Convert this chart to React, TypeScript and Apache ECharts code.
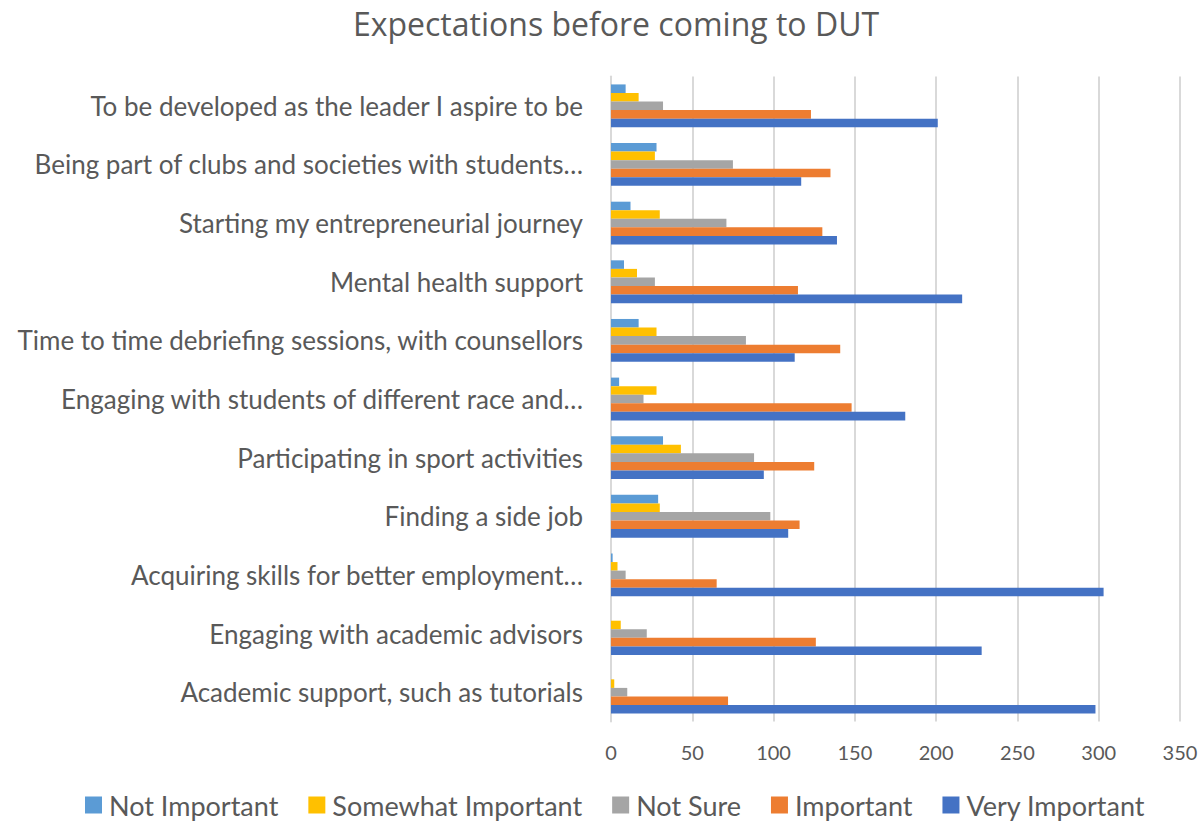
import React, { useEffect, useRef } from "react";
import * as echarts from "echarts";

// Categories listed bottom to top (Excel order)
const categories = [
  "Academic support, such as tutorials",
  "Engaging with academic advisors",
  "Acquiring skills for better employment…",
  "Finding a side job",
  "Participating in sport activities",
  "Engaging with students of different race and…",
  "Time to time debriefing sessions, with counsellors",
  "Mental health support",
  "Starting my entrepreneurial journey",
  "Being part of clubs and societies with students…",
  "To be developed as the leader I aspire to be",
];

const seriesNames = ["Not Important", "Somewhat Important", "Not Sure", "Important", "Very Important"];
const seriesColors = ["#5B9BD5", "#FFC000", "#A5A5A5", "#ED7D31", "#4472C4"];

const notImportant = [0, 0, 1, 29, 32, 5, 17, 8, 12, 28, 9];
const somewhatImportant = [2, 6, 4, 30, 43, 28, 28, 16, 30, 27, 17];
const notSure = [10, 22, 9, 98, 88, 20, 83, 27, 71, 75, 32];
const important = [72, 126, 65, 116, 125, 148, 141, 115, 130, 135, 123];
const veryImportant = [298, 228, 303, 109, 94, 181, 113, 216, 139, 117, 201];

const seriesValues = [notImportant, somewhatImportant, notSure, important, veryImportant];

const xTicks = { min: 0, max: 350, interval: 50 };

export default function App() {
  const ref = useRef<HTMLDivElement>(null);
  useEffect(() => {
    if (!ref.current) return;
    const chart = echarts.init(ref.current, undefined, { renderer: "svg" });
    const font = "Lato, 'Open Sans', sans-serif";
    chart.setOption({
      animation: false,
      backgroundColor: "#ffffff",
      title: {
        text: "Expectations before coming to DUT",
        left: 611,
        top: 2,
        textAlign: "center",
        textStyle: { fontFamily: "'Open Sans', sans-serif", fontSize: 32, fontWeight: "normal", color: "#595959" },
      },
      legend: {
        top: 791,
        left: 85,
        padding: 0,
        itemWidth: 17,
        itemHeight: 17,
        itemGap: 30,
        icon: "rect",
        textStyle: { fontFamily: font, fontSize: 27, lineHeight: 28, color: "#595959", padding: [0, 0, 0, 2] },
        data: seriesNames,
      },
      grid: { left: 611, right: 22, top: 76.5, bottom: 102.5, containLabel: false },
      xAxis: {
        type: "value",
        min: xTicks.min,
        max: xTicks.max,
        interval: xTicks.interval,
        axisLine: { show: false },
        axisTick: { show: false },
        axisLabel: { fontFamily: font, fontSize: 20, color: "#595959", margin: 20 },
        splitLine: { lineStyle: { color: "#d9d9d9", width: 2 } },
      },
      yAxis: {
        type: "category",
        data: categories,
        axisLine: { show: true, lineStyle: { color: "#d9d9d9", width: 2 } },
        axisTick: { show: false },
        axisLabel: { fontFamily: font, fontSize: 26, color: "#595959", margin: 28 },
      },
      series: seriesNames.map((name, i) => ({
        name,
        type: "bar",
        data: seriesValues[i],
        barGap: "0%",
        barCategoryGap: "27%",
        itemStyle: { color: seriesColors[i] },
      })),
    });
    return () => chart.dispose();
  }, []);
  return (
    <div
      ref={ref}
      style={{ position: "fixed", left: 0, top: 0, width: 1202, height: 824, overflow: "hidden" }}
    />
  );
}
